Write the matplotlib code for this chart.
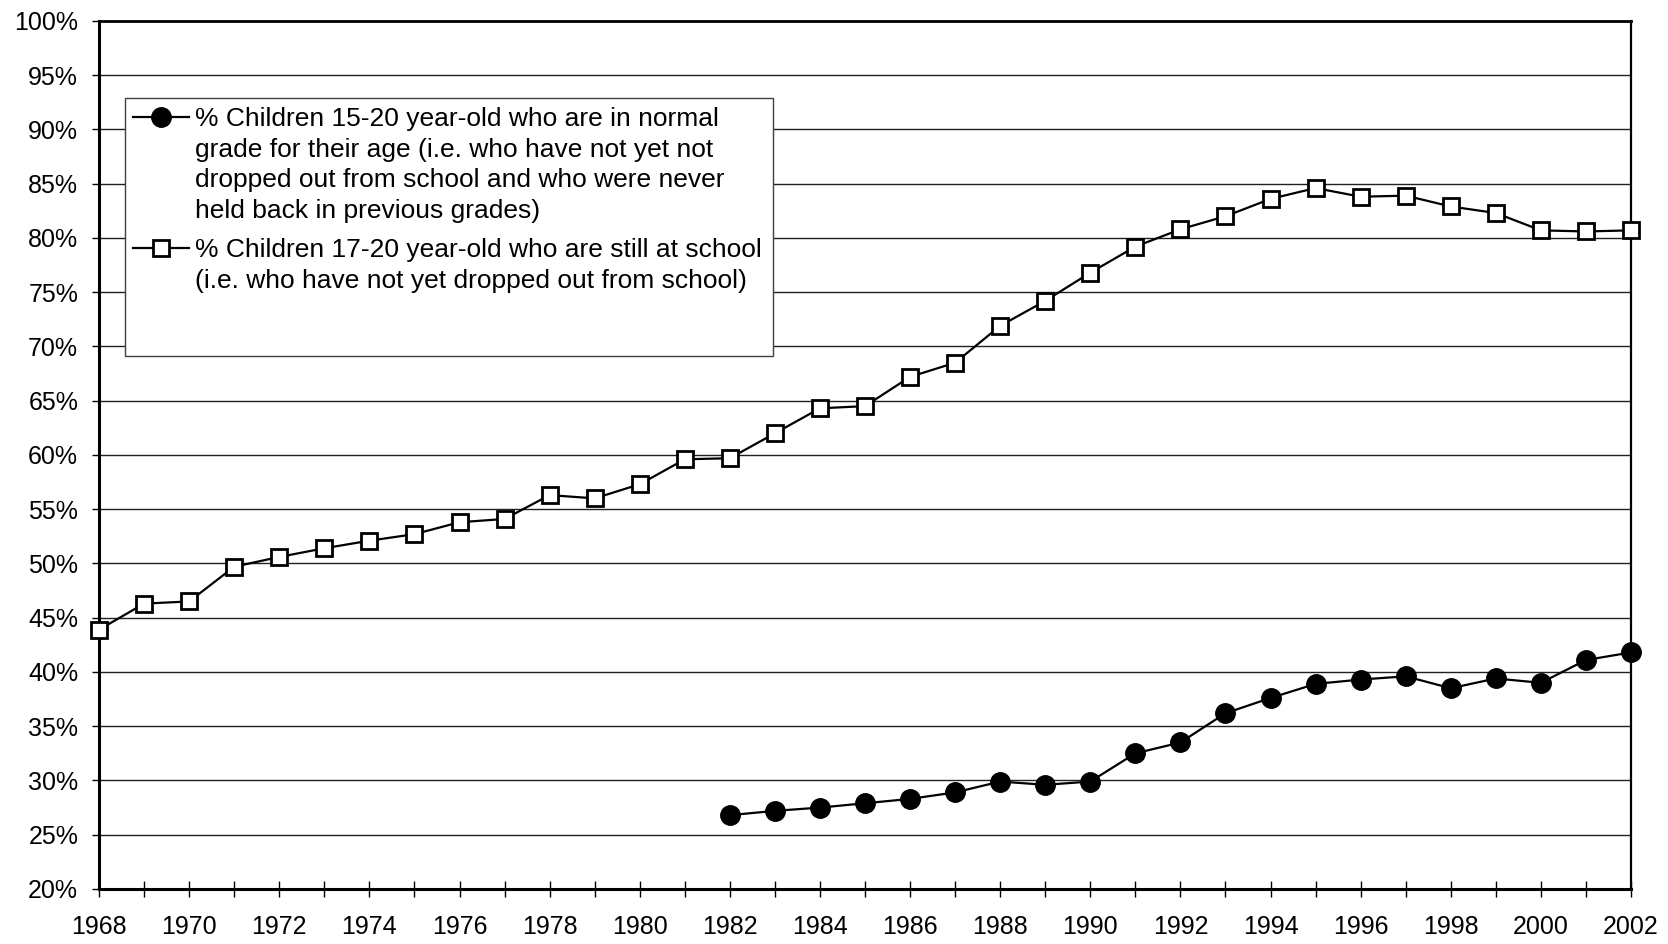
import matplotlib
matplotlib.use("Agg")
from matplotlib import pyplot as plt
from matplotlib.lines import Line2D
from matplotlib.patches import Rectangle
from matplotlib.ticker import MultipleLocator, FuncFormatter

plt.rcParams["font.family"] = ["Liberation Sans", "DejaVu Sans"]

YEARS_SCHOOL = list(range(1968, 2003))
STILL_AT_SCHOOL = [43.9, 46.3, 46.5, 49.7, 50.6, 51.4, 52.1, 52.7, 53.8, 54.1,
                   56.3, 56.0, 57.3, 59.6, 59.7, 62.0, 64.3, 64.5, 67.2, 68.5,
                   71.9, 74.2, 76.8, 79.2, 80.8, 82.0, 83.6, 84.6, 83.8, 83.9,
                   82.9, 82.3, 80.7, 80.6, 80.7]

YEARS_GRADE = list(range(1982, 2003))
NORMAL_GRADE = [26.8, 27.2, 27.5, 27.9, 28.3, 28.9, 29.9, 29.6, 29.9, 32.5,
                33.5, 36.2, 37.6, 38.9, 39.3, 39.6, 38.5, 39.4, 39.0, 41.1,
                41.8]

LAB_GRADE = ("% Children 15-20 year-old who are in normal\n"
             "grade for their age (i.e. who have not yet not\n"
             "dropped out from school and who were never\n"
             "held back in previous grades)")
LAB_SCHOOL = ("% Children 17-20 year-old who are still at school\n"
              "(i.e. who have not yet dropped out from school)")

TICK = 18
LEG = 19
CIRC = dict(color="black", lw=1.6, marker="o", ms=14, mfc="black",
            mec="black")
SQR = dict(color="black", lw=1.6, marker="s", ms=12, mfc="white",
           mec="black", mew=2)

fig = plt.figure(figsize=(16.68, 9.44), dpi=100)
ax = fig.add_axes([0.0594, 0.0583, 0.9184, 0.9195])

ax.plot(YEARS_GRADE, NORMAL_GRADE, clip_on=False, zorder=4, **CIRC)
ax.plot(YEARS_SCHOOL, STILL_AT_SCHOOL, clip_on=False, zorder=4, **SQR)

ax.set_xlim(1968, 2002)
ax.set_ylim(20, 100)
ax.yaxis.set_major_locator(MultipleLocator(5))
ax.yaxis.set_major_formatter(FuncFormatter(lambda v, p: "{:.0f}%".format(v)))
ax.xaxis.set_major_locator(MultipleLocator(2))
ax.xaxis.set_minor_locator(MultipleLocator(1))
ax.tick_params(axis="x", which="both", direction="inout", length=12,
               width=1, labelsize=TICK, pad=13)
ax.tick_params(axis="y", direction="out", length=5, width=1,
               labelsize=TICK, pad=10)

ax.grid(axis="y", color="#202020", lw=1)
ax.set_axisbelow(True)
for side in ["left", "bottom"]:
    ax.spines[side].set_linewidth(2.2)
ax.spines["top"].set_linewidth(2)
ax.spines["right"].set_linewidth(1.6)

# legend box drawn by hand so the handles sit on the first line of each label
ax.add_patch(Rectangle((0.0166, 0.614), 0.4234, 0.297,
                       transform=ax.transAxes, facecolor="white",
                       edgecolor="#404040", lw=1, zorder=5))
for lab, style, y_mid, y_top in [(LAB_GRADE, CIRC, 0.889, 0.9005),
                                 (LAB_SCHOOL, SQR, 0.7386, 0.7496)]:
    ax.add_line(Line2D([0.0222, 0.0587], [y_mid, y_mid],
                       transform=ax.transAxes, zorder=6,
                       **{**style, "marker": None}))
    ax.add_line(Line2D([0.0402], [y_mid], transform=ax.transAxes, zorder=7,
                       **{**style, "lw": 0}))
    ax.text(0.0625, y_top, lab, transform=ax.transAxes, fontsize=LEG,
            va="top", ha="left", linespacing=1.34, zorder=7)

fig.savefig("out.png", dpi=100)
